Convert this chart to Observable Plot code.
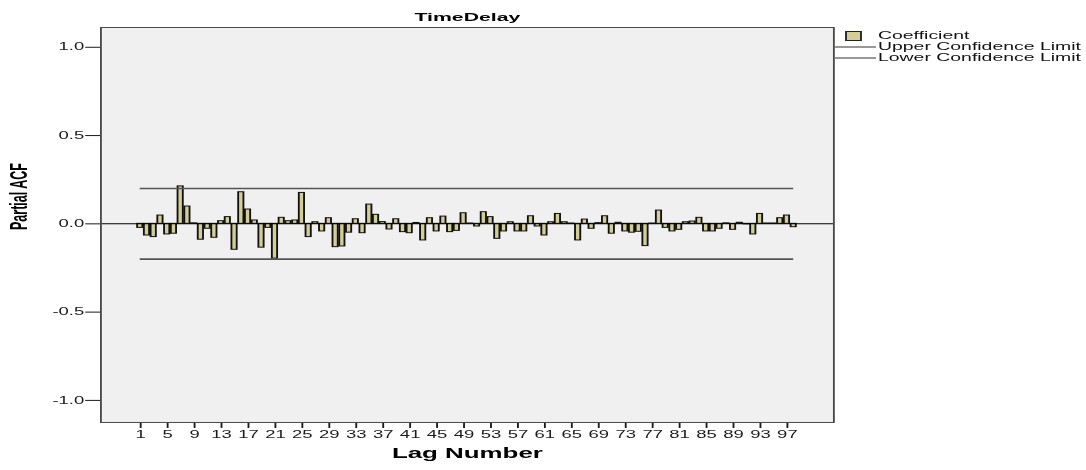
<!DOCTYPE html>
<html>
<head>
<meta charset="utf-8">
<script src="https://cdn.jsdelivr.net/npm/d3@7"></script>
<script src="https://cdn.jsdelivr.net/npm/@observablehq/plot@0.6"></script>
<style>
  html, body { margin: 0; padding: 0; background: #ffffff; }
  #wrap { position: relative; width: 587px; height: 470px; transform: scaleX(1.85); transform-origin: 0 0; }
  #legend { position: absolute; left: 0; top: 0; overflow: visible; }
</style>
</head>
<body>
<div id="wrap"></div>
<script>
// ---- data ----
const lags = [1,2,3,4,5,6,7,8,9,10,11,12,13,14,15,16,17,18,19,20,21,22,23,24,25,26,27,28,29,30,31,32,33,34,35,36,37,38,39,40,41,42,43,44,45,46,47,48,49,50,51,52,53,54,55,56,57,58,59,60,61,62,63,64,65,66,67,68,69,70,71,72,73,74,75,76,77,78,79,80,81,82,83,84,85,86,87,88,89,90,91,92,93,94,95,96,97,98];
const pacf = [-0.023,-0.066,-0.075,0.047,-0.060,-0.056,0.212,0.098,0.003,-0.090,
  -0.028,-0.079,0.015,0.038,-0.147,0.179,0.081,0.019,-0.135,-0.023,
  -0.197,0.034,0.015,0.019,0.175,-0.075,0.009,-0.043,0.032,-0.132,
  -0.128,-0.050,0.026,-0.053,0.109,0.051,0.010,-0.032,0.026,-0.047,
  -0.053,0.005,-0.094,0.032,-0.043,0.041,-0.047,-0.040,0.060,0.002,
  -0.015,0.066,0.038,-0.085,-0.043,0.009,-0.043,-0.043,0.043,-0.015,
  -0.066,0.009,0.056,0.009,0.002,-0.094,0.024,-0.028,0.004,0.043,
  -0.056,0.006,-0.043,-0.050,-0.045,-0.126,0.002,0.075,-0.023,-0.043,
  -0.034,0.009,0.013,0.034,-0.043,-0.043,-0.028,0.003,-0.034,0.006,
  -0.003,-0.060,0.056,0.002,0.002,0.032,0.047,-0.019];
const upperLimit = 0.2;
const lowerLimit = -0.2;
const xTicks = [1,5,9,13,17,21,25,29,33,37,41,45,49,53,57,61,65,69,73,77,81,85,89,93,97];
const yTicks = [-1, -0.5, 0, 0.5, 1];
const seriesNames = ["Coefficient", "Upper Confidence Limit", "Lower Confidence Limit"];
const titleText = "TimeDelay";
const xLabel = "Lag Number";
const yLabel = "Partial ACF";

// ---- layout (drawn narrow, stretched horizontally like the original) ----
const S = 1.85;
const W = 1086 / S;
const rows = lags.map((l, i) => ({lag: l, value: pacf[i]}));
const half = 0.39;
const barFill = "#d3ce97";
const font = "'Liberation Sans', Arial, Helvetica, sans-serif";

const chart = Plot.plot({
  width: W,
  height: 470,
  marginLeft: 100 / S,
  marginRight: W - 833 / S,
  marginTop: 27,
  marginBottom: 48,
  style: {fontFamily: font, fontSize: "10px", background: "transparent", color: "#1a1a1a", overflow: "visible"},
  x: {domain: [-4.9, 103.9], ticks: xTicks, tickSize: 6, tickPadding: 2, tickFormat: d => String(d), label: null},
  y: {domain: [-1.125, 1.112], ticks: yTicks, tickSize: 8, tickPadding: 1, tickFormat: d => d.toFixed(1), label: null},
  marks: [
    Plot.frame({fill: "#f0f0f0", stroke: null}),
    Plot.rect(rows, {x1: d => d.lag - half, x2: d => d.lag + half, y1: 0, y2: "value", fill: barFill, stroke: "#111", strokeWidth: 1}),
    Plot.ruleY([0], {stroke: "#000", strokeWidth: 1}),
    Plot.ruleY([upperLimit], {x1: lags[0], x2: lags[lags.length - 1], stroke: "#555", strokeWidth: 1.6}),
    Plot.ruleY([lowerLimit], {x1: lags[0], x2: lags[lags.length - 1], stroke: "#555", strokeWidth: 1.6}),
    Plot.frame({stroke: "#4a4a4a", strokeWidth: 1}),
    Plot.text([titleText], {text: d => d, frameAnchor: "top", dy: -15, fontWeight: "bold", fontSize: 11.5, fill: "#000"}),
    Plot.text([xLabel], {text: d => d, frameAnchor: "bottom", dy: 36, fontWeight: "bold", fontSize: 14, fill: "#000"}),
    Plot.text([yLabel], {text: d => d, frameAnchor: "left", dx: 10 - 100 / S, dy: 5, rotate: -90, fontWeight: "bold", fontSize: 12.5, fill: "#000"})
  ]
});

const wrap = document.getElementById("wrap");
wrap.appendChild(chart);

// ---- legend (top right) ----
const ns = "http://www.w3.org/2000/svg";
const lg = document.createElementNS(ns, "svg");
lg.setAttribute("id", "legend");
lg.setAttribute("width", W);
lg.setAttribute("height", 80);
lg.style.fontFamily = font;
const rowsY = [36, 47, 58];
const lineX0 = 835 / S, lineX1 = 876 / S, textX = 878 / S;
// swatch
const sw = document.createElementNS(ns, "rect");
sw.setAttribute("x", 846 / S); sw.setAttribute("y", rowsY[0] - 4.5);
sw.setAttribute("width", 15 / S); sw.setAttribute("height", 9);
sw.setAttribute("fill", barFill); sw.setAttribute("stroke", "#222"); sw.setAttribute("stroke-width", 1);
lg.appendChild(sw);
for (let k = 1; k < 3; k++) {
  const ln = document.createElementNS(ns, "line");
  ln.setAttribute("x1", lineX0); ln.setAttribute("x2", lineX1);
  ln.setAttribute("y1", rowsY[k]); ln.setAttribute("y2", rowsY[k]);
  ln.setAttribute("stroke", "#333"); ln.setAttribute("stroke-width", 1);
  lg.appendChild(ln);
}
seriesNames.forEach((name, k) => {
  const t = document.createElementNS(ns, "text");
  t.setAttribute("x", textX); t.setAttribute("y", rowsY[k]);
  t.setAttribute("dominant-baseline", "middle");
  t.setAttribute("font-size", "10.5px");
  t.setAttribute("fill", "#111");
  t.textContent = name;
  lg.appendChild(t);
});
wrap.appendChild(lg);
</script>
</body>
</html>
